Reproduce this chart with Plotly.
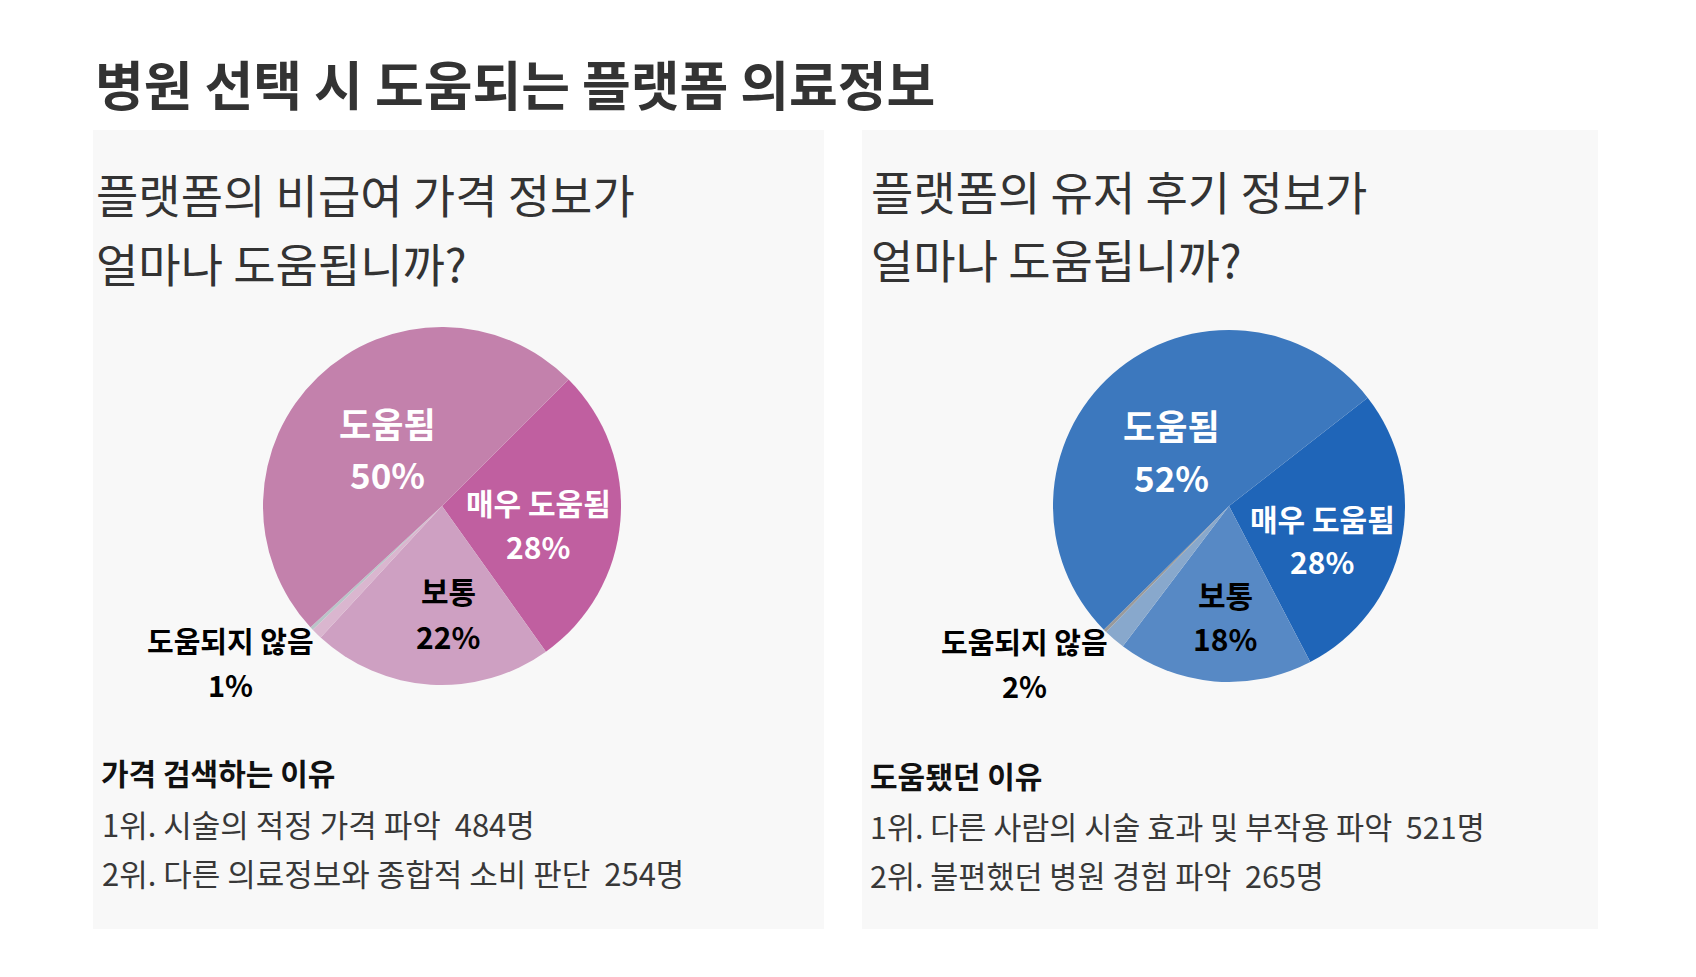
import plotly.graph_objects as go

# ---------------- data ----------------
title_text = "병원 선택 시 도움되는 플랫폼 의료정보"

left_question = ["플랫폼의 비급여 가격 정보가", "얼마나 도움됩니까?"]
right_question = ["플랫폼의 유저 후기 정보가", "얼마나 도움됩니까?"]

categories = ["매우 도움됨", "보통", "도움되지 않음", "전혀 도움되지 않음", "도움됨"]
left_values = [28, 22, 1, 0.3, 50]
right_values = [28, 18, 2, 0.3, 52]
left_pct_labels = ["28%", "22%", "1%", "", "50%"]
right_pct_labels = ["28%", "18%", "2%", "", "52%"]

left_colors = ["#c05fa0", "#cea0c2", "#dab6cf", "#b9c4c8", "#c381ac"]
right_colors = ["#1f65b8", "#5789c5", "#88a8cc", "#9a9a9a", "#3c78be"]

left_reason_title = "가격 검색하는 이유"
left_reasons = ["1위. 시술의 적정 가격 파악", "2위. 다른 의료정보와 종합적 소비 판단"]
left_counts = ["484명", "254명"]

right_reason_title = "도움됐던 이유"
right_reasons = ["1위. 다른 사람의 시술 효과 및 부작용 파악", "2위. 불편했던 병원 경험 파악"]
right_counts = ["521명", "265명"]

# ---------------- layout helpers ----------------
W, H = 1696, 977
FONT = "Noto Sans CJK KR"


def px(x):
    return x / W


def py(y):
    return 1 - y / H


fig = go.Figure()

# pies
fig.add_trace(go.Pie(
    labels=categories, values=left_values, sort=False, direction="clockwise",
    rotation=45, marker=dict(colors=left_colors, line=dict(width=0)),
    textinfo="none", hoverinfo="label+percent", showlegend=False,
    domain=dict(x=[px(255), px(613)], y=[py(677), py(319)]),
))
fig.add_trace(go.Pie(
    labels=categories, values=right_values, sort=False, direction="clockwise",
    rotation=52, marker=dict(colors=right_colors, line=dict(width=0)),
    textinfo="none", hoverinfo="label+percent", showlegend=False,
    domain=dict(x=[px(1045), px(1397)], y=[py(674), py(322)]),
))

shapes = [
    dict(type="rect", xref="paper", yref="paper", x0=px(85), x1=px(816), y0=py(921), y1=py(122),
         fillcolor="#f8f8f8", line=dict(width=0), layer="below"),
    dict(type="rect", xref="paper", yref="paper", x0=px(854), x1=px(1590), y0=py(921), y1=py(122),
         fillcolor="#f8f8f8", line=dict(width=0), layer="below"),
]

annotations = []


def text(x, y, s, size, color="#333333", bold=False, xanchor="left", weight=None):
    annotations.append(dict(
        x=px(x), y=py(y), xref="paper", yref="paper", text=s, showarrow=False,
        xanchor=xanchor, yanchor="middle",
        font=dict(family=FONT, size=size, color=color,
                  weight=weight if weight is not None else (700 if bold else 400)),
    ))


# title
text(85, 75, title_text, 53, "#333333", bold=True)

# questions
text(86, 185, left_question[0], 46, "#333333")
text(86, 254, left_question[1], 46, "#333333")
text(861, 182, right_question[0], 46, "#333333")
text(861, 250, right_question[1], 46, "#333333")

# pie labels: (category index, name position, pct position, size, color)
left_label_pos = [
    (4, (379, 414), (379, 465), 35, "white"),
    (0, (530, 494), (530, 538), 30, "white"),
    (1, (440, 582), (440, 628), 30, "black"),
    (2, (222, 632), (222, 676), 29, "black"),
]
right_label_pos = [
    (4, (1163, 417), (1163, 468), 35, "white"),
    (0, (1314, 510), (1314, 553), 30, "white"),
    (1, (1217, 586), (1217, 630), 30, "black"),
    (2, (1016, 633), (1016, 677), 29, "black"),
]
for idx, npos, ppos, size, color in left_label_pos:
    text(npos[0], npos[1], categories[idx], size, color, bold=True, xanchor="center")
    text(ppos[0], ppos[1], left_pct_labels[idx], size, color, bold=True, xanchor="center")
for idx, npos, ppos, size, color in right_label_pos:
    text(npos[0], npos[1], categories[idx], size, color, bold=True, xanchor="center")
    text(ppos[0], ppos[1], right_pct_labels[idx], size, color, bold=True, xanchor="center")

# reasons
text(91, 764, left_reason_title, 30, "#111111", bold=True)
for i, (r, c) in enumerate(zip(left_reasons, left_counts)):
    text(92, 815 + i * 49, r + "  " + c, 31, "#383838")

text(860, 767, right_reason_title, 30, "#111111", bold=True)
for i, (r, c) in enumerate(zip(right_reasons, right_counts)):
    text(860, 818 + i * 49, r + "  " + c, 30.5, "#383838")

fig.update_layout(
    width=W, height=H, margin=dict(l=0, r=0, t=0, b=0),
    paper_bgcolor="white", plot_bgcolor="white",
    shapes=shapes, annotations=annotations,
    font=dict(family=FONT),
)

fig.write_html("out.html")
